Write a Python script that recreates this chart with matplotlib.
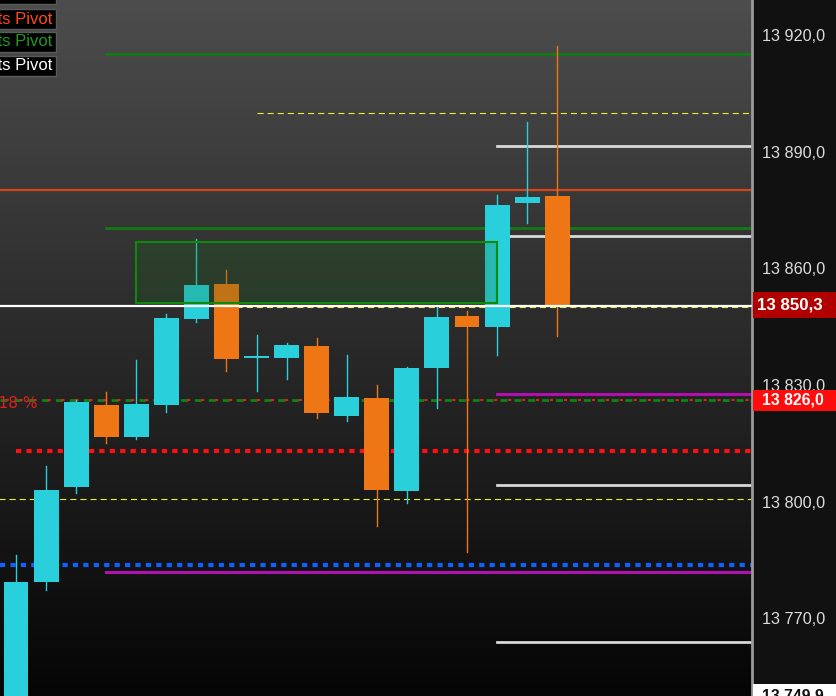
import numpy as np
import matplotlib
matplotlib.use("Agg")
import matplotlib.pyplot as plt
from matplotlib.patches import Rectangle
from matplotlib.transforms import blended_transform_factory

plt.rcParams['font.family'] = ['Liberation Sans', 'DejaVu Sans']

# candles (open, high, low, close)
opens = [13745.0, 13779.3, 13803.8, 13824.9, 13816.6, 13824.9, 13847.0, 13856.0, 13837.0, 13836.9,
         13840.0, 13822.0, 13826.7, 13802.7, 13834.4, 13847.7, 13844.9, 13876.8, 13878.6]
highs = [13786.3, 13809.2, 13826.0, 13828.2, 13836.4, 13848.3, 13867.5, 13859.6, 13842.9, 13840.8,
         13842.1, 13837.7, 13830.0, 13834.6, 13850.1, 13849.0, 13878.9, 13897.6, 13917.2]
lows = [13740.0, 13777.3, 13802.2, 13815.1, 13816.1, 13823.1, 13846.2, 13833.6, 13828.5, 13831.5,
        13821.5, 13820.7, 13793.7, 13799.7, 13824.1, 13787.1, 13837.7, 13871.7, 13842.6]
closes = [13779.3, 13803.0, 13825.6, 13816.6, 13825.1, 13847.2, 13855.7, 13836.7, 13837.3, 13840.3,
          13822.8, 13826.9, 13803.0, 13834.4, 13847.5, 13844.9, 13876.3, 13878.3, 13850.3]

# horizontal levels: (value, start candle index)
green_levels = [(13915.1, 3), (13870.4, 3)]
white_levels = [13891.5, 13868.3, 13804.3, 13763.9]
yellow_levels = [(13900.0, 8), (13850.0, 7), (13800.6, -1)]
orange_level = 13880.1
magenta_levels = [(13827.7, 16), (13781.9, 3)]
red_dotted = (13813.0, 0)
blue_dotted = 13783.7
fib_level = 13826.0
last_price = 13850.3
zone = (4, 16, 13851.1, 13866.8)

yticks = [13770, 13800, 13830, 13860, 13890, 13920]
tag_values = [13850.3, 13826.0, 13749.9]
tag_labels = ['13 850,3', '13 826,0', '13 749,9']
tag_colors = ['#b00000', '#ff0d0d', 'white']
tag_text_colors = ['white', 'white', '#111111']
legend_names = ['Pivots Pivot', 'Pivots Pivot', 'Pivots Pivot', 'Pivots Pivot']
legend_colors = ['white', '#ff4a12', '#1f9a1f', 'white']

W, H = 837, 696
PX = 3.889  # pixels per price unit
fig = plt.figure(figsize=(W / 100, H / 100), dpi=100, facecolor='#111111')
ax = fig.add_axes([0, 0, 752 / W, 1])
xlo, xhi = -0.532, 24.48
ax.set_xlim(xlo, xhi)
ax.set_ylim(13750.0, 13929.0)

# gradient background
grad = np.linspace(77, 5, 256) / 255
img = np.stack([grad, grad, grad], axis=-1)[:, None, :].repeat(2, axis=1)
ax.imshow(img, extent=[xlo, xhi, 13750.0, 13929.0], aspect='auto', zorder=0)

for s in ax.spines.values():
    s.set_visible(False)
ax.spines['right'].set_visible(True)
ax.spines['right'].set_color('#9a9a9a')
ax.spines['right'].set_linewidth(2)
ax.set_xticks([])
ax.yaxis.tick_right()
ax.set_yticks(yticks)
ax.set_yticklabels([f"{v // 1000} {v % 1000:03d},0" for v in yticks])
ax.tick_params(axis='y', length=0, pad=7.5, labelsize=11.7, labelcolor='#dcdcdc')

# zone box
ax.add_patch(Rectangle((zone[0], zone[2]), zone[1] - zone[0], zone[3] - zone[2],
                       facecolor=(0.1, 0.42, 0.1, 0.22), edgecolor='#0c8a0c', lw=1.5, zorder=4))

# levels
for v, s in green_levels:
    ax.plot([s, xhi], [v, v], color='#137a13', lw=2, zorder=2)
for v in white_levels:
    ax.plot([16, xhi], [v, v], color='#d8d8d8', lw=2, zorder=2)
ax.plot([xlo, xhi], [orange_level, orange_level], color='#d4461a', lw=1.6, zorder=2)
for v, s in magenta_levels:
    ax.plot([s, xhi], [v, v], color='#b010b0', lw=2.2, zorder=2)
for v, s in yellow_levels:
    ax.plot([s, xhi], [v, v], color='#ecec30', lw=0.8, dashes=(5.5, 3.6), zorder=2)
ax.plot([red_dotted[1], xhi], [red_dotted[0]] * 2, color='#ff1010', lw=3, dashes=(1.25, 1.25), zorder=2)
ax.plot([xlo, xhi], [blue_dotted] * 2, color='#1060ff', lw=3, dashes=(1.25, 1.25), zorder=2)
ax.plot([xlo, xhi], [fib_level] * 2, color='#128212', lw=2, dashes=(2.5, 2.5), zorder=2)
ax.plot([xlo, xhi], [fib_level] * 2, color='#e02020', lw=1.5, linestyle=(4, (1.5, 5.2)), zorder=2)
ax.plot([xlo, xhi], [last_price] * 2, color='white', lw=1.6, zorder=6)
ax.text(xlo + 38 / 30.07, 13825.2, '0.618 %', color='#e01e1e', fontsize=11.2,
        family='DejaVu Sans', ha='right', va='center', zorder=7)

# candles
for i in range(len(opens)):
    o, h, l, c = opens[i], highs[i], lows[i], closes[i]
    col = '#29d0dc' if c >= o else '#ee7615'
    ax.plot([i, i], [l, h], color=col, lw=1, zorder=3)
    lo, hi = min(o, c), max(o, c)
    ax.add_patch(Rectangle((i - 0.415, lo), 0.83, max(hi - lo, 0.4), facecolor=col,
                           edgecolor='none', zorder=3))

# price tags on the right axis
tr = blended_transform_factory(fig.transFigure, ax.transData)
tag_boxes = [(13850.6, 26, 12.2, 757), (13826.0, 21, 11.3, 762), (13750.0, 24, 11.3, 762)]
for v, lab, fc, tc, (yc, hpx, fs, xt) in zip(tag_values, tag_labels, tag_colors,
                                              tag_text_colors, tag_boxes):
    hh = hpx / PX
    ax.add_patch(Rectangle((753 / W, yc - hh / 2), 84 / W, hh, transform=tr, facecolor=fc,
                           edgecolor='none', clip_on=False, zorder=9))
    ax.text(xt / W, yc, lab, transform=tr, color=tc, fontsize=fs, fontweight='bold',
            ha='left', va='center', clip_on=False, zorder=10)

# legend boxes top-left (cut off)
tops = [-16, 9, 32, 56]
for t, name, col in zip(tops, legend_names, legend_colors):
    fig.patches.append(Rectangle((-0.05, 1 - (t + 20) / H), (56 + 42) / W, 20 / H,
                                 transform=fig.transFigure, facecolor='black',
                                 edgecolor='#5a5a5a', lw=1, zorder=10))
    fig.text(52 / W, 1 - (t + 10) / H, name, color=col, fontsize=12, ha='right', va='center',
             zorder=11)

fig.savefig('out.png', dpi=100, facecolor=fig.get_facecolor())
